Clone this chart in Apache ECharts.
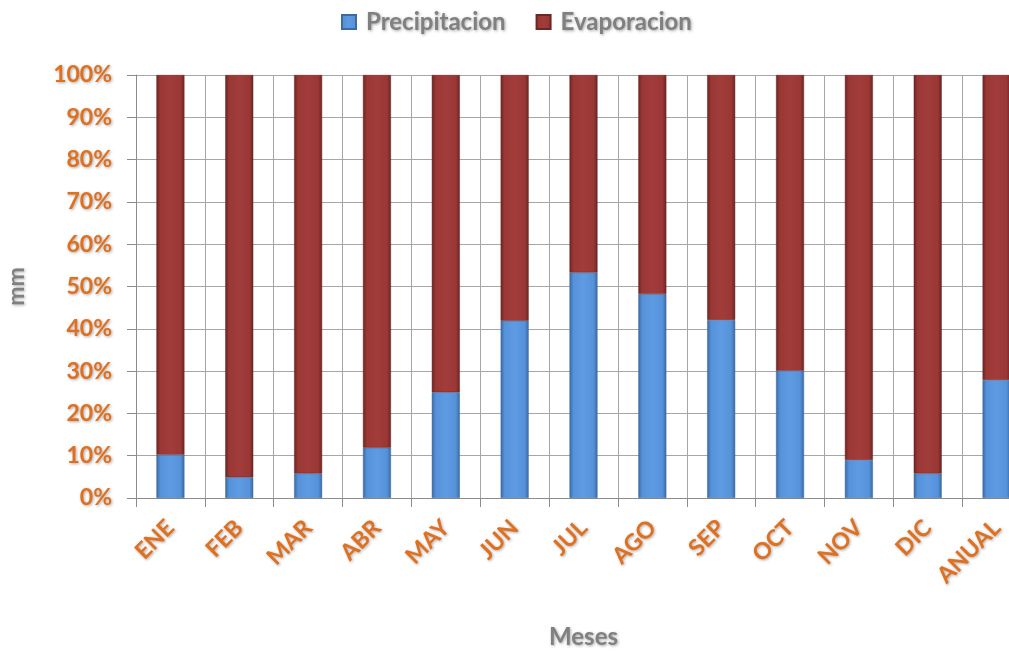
<!DOCTYPE html>
<html>
<head>
<meta charset="utf-8">
<script src="https://cdn.jsdelivr.net/npm/echarts@6/dist/echarts.min.js"></script>
<style>html,body{margin:0;padding:0;background:#fff;overflow:hidden}#c{width:1009px;height:652px}</style>
</head>
<body>
<div id="c"></div>
<script>
var categories = ['ENE','FEB','MAR','ABR','MAY','JUN','JUL','AGO','SEP','OCT','NOV','DIC','ANUAL'];
var precipitacion = [10.2, 4.9, 5.8, 11.9, 25.0, 41.9, 53.3, 48.2, 42.1, 30.1, 9.0, 5.8, 27.9];
var evaporacion = [89.8, 95.1, 94.2, 88.1, 75.0, 58.1, 46.7, 51.8, 57.9, 69.9, 91.0, 94.2, 72.1];
var yTicks = [0, 10, 20, 30, 40, 50, 60, 70, 80, 90, 100];

var FONT = 'Lato';
var ORANGE = '#E0701E';
var GRAYTXT = '#808080';
var shadow = {textShadowColor:'rgba(0,0,0,0.35)', textShadowBlur:3, textShadowOffsetX:1, textShadowOffsetY:1};
function grad(edge, base, light) {
  return new echarts.graphic.LinearGradient(0,0,1,0,[
    {offset:0, color:edge},{offset:0.14, color:base},{offset:0.5, color:light},{offset:0.86, color:base},{offset:1, color:edge}
  ]);
}
var chart = echarts.init(document.getElementById('c'));
chart.setOption({
  animation:false,
  backgroundColor:'#fff',
  legend:{
    top:5, left:336, itemWidth:14, itemHeight:14, itemGap:30,
    data:[{name:'Precipitacion', icon:'rect'},{name:'Evaporacion', icon:'rect'}],
    textStyle:Object.assign({fontFamily:FONT, fontWeight:'bold', fontSize:24, color:GRAYTXT, padding:[0,0,0,5]}, shadow)
  },
  grid:{left:136, top:75, width:895, height:423, containLabel:false, outerBoundsMode:'none'},
  xAxis:{
    type:'category', data:categories,
    name:'Meses', nameLocation:'middle', nameGap:127,
    nameTextStyle:Object.assign({fontFamily:FONT, fontWeight:'bold', fontSize:24, color:GRAYTXT}, shadow),
    axisLine:{show:true, lineStyle:{color:'#8c8c8c', width:1}},
    axisTick:{show:true, length:9, lineStyle:{color:'#8c8c8c'}},
    splitLine:{show:true, lineStyle:{color:'#a6a6a6', width:1}},
    axisLabel:Object.assign({rotate:45, margin:26, fontFamily:FONT, fontWeight:'bold', fontSize:23, color:ORANGE, interval:0}, shadow)
  },
  yAxis:{
    type:'value', min:0, max:100, interval:10,
    name:'mm', nameLocation:'middle', nameRotate:90, nameGap:108,
    nameTextStyle:Object.assign({fontFamily:FONT, fontWeight:'bold', fontSize:23, color:GRAYTXT}, shadow),
    axisLine:{show:true, lineStyle:{color:'#8c8c8c', width:1}},
    axisTick:{show:true, length:9, lineStyle:{color:'#8c8c8c'}},
    splitLine:{show:true, lineStyle:{color:'#a6a6a6', width:1}},
    axisLabel:Object.assign({margin:24, fontFamily:FONT, fontWeight:'bold', fontSize:23, color:ORANGE,
      formatter:function(v){return yTicks.indexOf(v) >= 0 ? v + '%' : '';}}, shadow)
  },
  series:[
    {name:'Precipitacion', type:'bar', stack:'total', barWidth:28, data:precipitacion,
     itemStyle:{color:grad('#3A67A0','#5592DA','#5E9BE3'), borderColor:'#3E6A9E', borderWidth:0.5}},
    {name:'Evaporacion', type:'bar', stack:'total', barWidth:28, data:evaporacion,
     itemStyle:{color:grad('#6A2422','#9A3836','#A13C3A'), borderColor:'#6E2624', borderWidth:0.5}}
  ]
});
</script>
</body>
</html>
